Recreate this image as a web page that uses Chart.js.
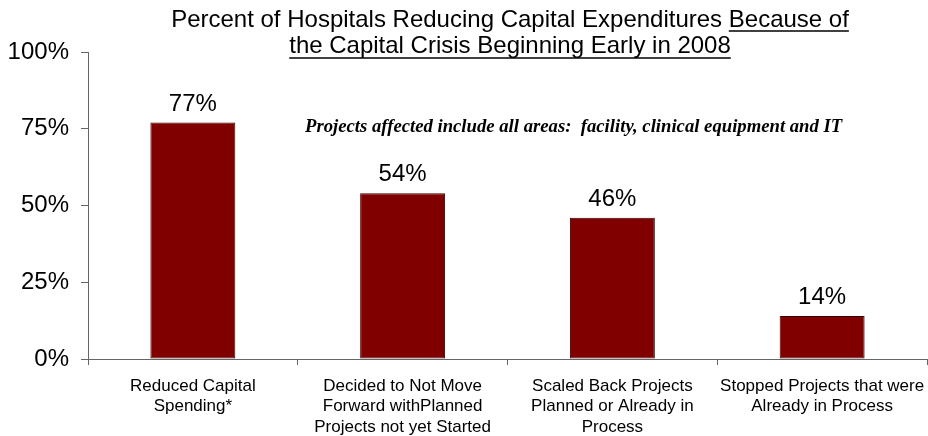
<!DOCTYPE html>
<html>
<head>
<meta charset="utf-8">
<script src="https://cdn.jsdelivr.net/npm/chart.js@4.4.1/dist/chart.umd.min.js"></script>
<style>
  html, body { margin: 0; padding: 0; background: #fff; }
  #wrap { width: 928px; height: 436px; position: relative; }
</style>
</head>
<body>
<div id="wrap"><canvas id="capchart"></canvas></div>
<script>
// categories and values
var categories = [
    ['Reduced Capital', 'Spending*'],
    ['Decided to Not Move', 'Forward withPlanned', 'Projects not yet Started'],
    ['Scaled Back Projects', 'Planned or Already in', 'Process'],
    ['Stopped Projects that were', 'Already in Process']
];
var percentValues = [77, 54, 46, 14];
var yTicks = [0, 25, 50, 75, 100];

var titleLine1 = 'Percent of Hospitals Reducing Capital Expenditures ';
var titleLine1Under = 'Because of';
var titleLine2 = 'the Capital Crisis Beginning Early in 2008';
var noteText = 'Projects affected include all areas:  facility, clinical equipment and IT';

// title (with underlined part), bar value labels and the italic note
var extras = {
    id: 'extras',
    afterDraw: function (chart) {
        var ctx = chart.ctx;
        ctx.save();
        ctx.fillStyle = '#000';
        ctx.strokeStyle = '#000';
        ctx.lineWidth = 1.6;

        // title
        ctx.font = '24px "Liberation Sans", Arial, sans-serif';
        ctx.textBaseline = 'alphabetic';
        ctx.textAlign = 'left';
        var cx = 510;
        var w1 = ctx.measureText(titleLine1).width;
        var w2 = ctx.measureText(titleLine1Under).width;
        var x1 = cx - (w1 + w2) / 2;
        ctx.fillText(titleLine1, x1, 27);
        ctx.fillText(titleLine1Under, x1 + w1, 27);
        ctx.beginPath();
        ctx.moveTo(x1 + w1, 31);
        ctx.lineTo(x1 + w1 + w2, 31);
        ctx.stroke();
        var w3 = ctx.measureText(titleLine2).width;
        var x2 = cx - w3 / 2;
        ctx.fillText(titleLine2, x2, 53);
        ctx.beginPath();
        ctx.moveTo(x2, 58);
        ctx.lineTo(x2 + w3, 58);
        ctx.stroke();

        // value labels
        ctx.textAlign = 'center';
        var meta = chart.getDatasetMeta(0);
        meta.data.forEach(function (bar, i) {
            ctx.fillText(percentValues[i] + '%', bar.x, bar.y - 12);
        });

        // note
        ctx.font = 'italic bold 18.7px "Liberation Serif", "Times New Roman", serif';
        ctx.textAlign = 'left';
        ctx.textBaseline = 'middle';
        ctx.fillText(noteText, 305, 127);
        ctx.restore();
    }
};

new Chart(document.getElementById('capchart').getContext('2d'), {
    type: 'bar',
    data: {
        labels: categories,
        datasets: [{
            data: percentValues,
            backgroundColor: '#800000',
            borderColor: '#3a0000',
            borderWidth: 1,
            borderSkipped: false,
            categoryPercentage: 0.405,
            barPercentage: 1
        }]
    },
    options: {
        responsive: true,
        maintainAspectRatio: false,
        animation: false,
        layout: { padding: { top: 52, right: 1, left: 0, bottom: 0 } },
        plugins: {
            legend: { display: false },
            tooltip: { enabled: false }
        },
        scales: {
            x: {
                grid: {
                    offset: true,
                    drawOnChartArea: false,
                    drawTicks: true,
                    tickLength: 6,
                    color: '#666'
                },
                border: { color: '#666', width: 1 },
                ticks: {
                    color: '#000',
                    maxRotation: 0,
                    autoSkip: false,
                    padding: 11,
                    font: { family: '"Liberation Sans", Arial, sans-serif', size: 17, lineHeight: 1.2 }
                },
                afterFit: function (scale) {
                    scale.height = 77;
                    // let the long last label hang past the axis end
                    scale.paddingLeft = 0;
                    scale.paddingRight = 0;
                }
            },
            y: {
                min: 0,
                max: 100,
                afterBuildTicks: function (scale) {
                    scale.ticks = yTicks.map(function (v) { return { value: v }; });
                },
                grid: {
                    drawOnChartArea: false,
                    drawTicks: true,
                    tickLength: 7,
                    color: '#666'
                },
                border: { color: '#666', width: 1 },
                ticks: {
                    color: '#000',
                    padding: 12,
                    callback: function (v) { return v + '%'; },
                    font: { family: '"Liberation Sans", Arial, sans-serif', size: 24 }
                },
                afterFit: function (scale) { scale.width = 88; }
            }
        }
    },
    plugins: [extras]
});
</script>
</body>
</html>
